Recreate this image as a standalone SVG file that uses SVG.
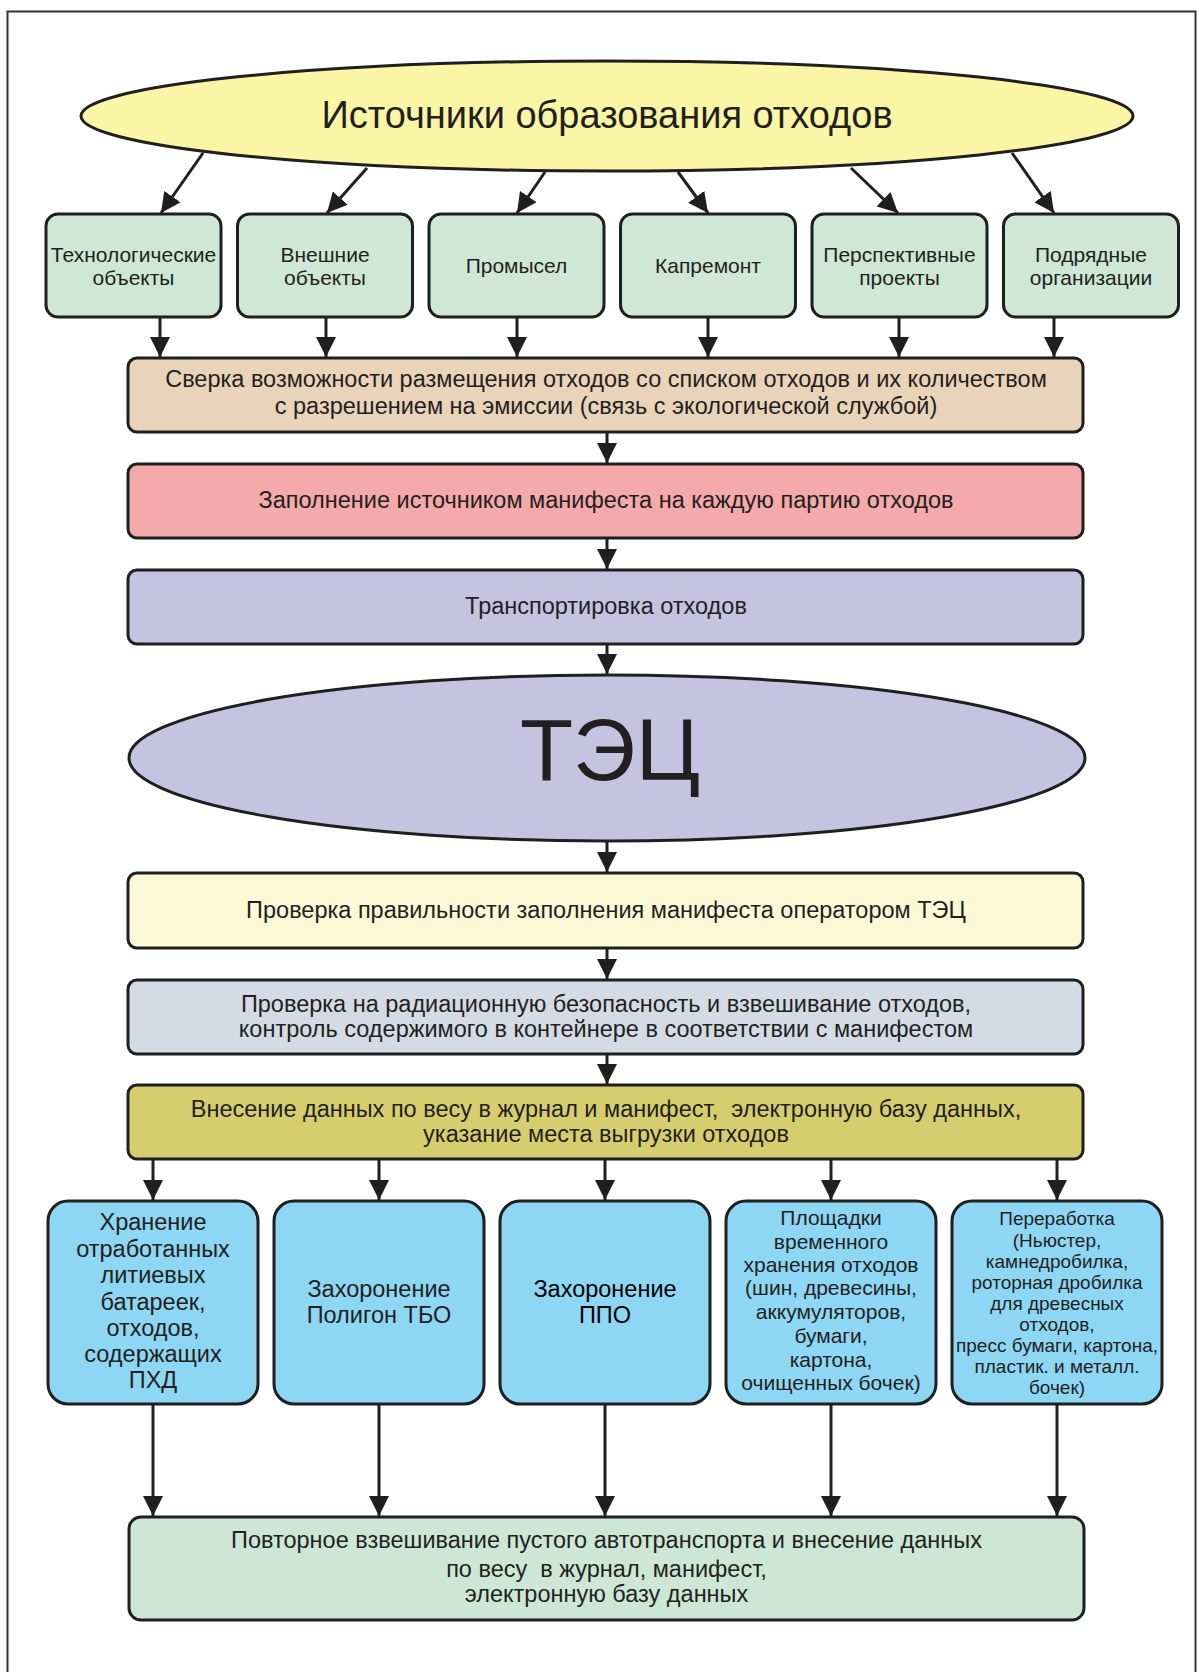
<svg xmlns="http://www.w3.org/2000/svg" width="1197" height="1672" viewBox="0 0 1197 1672">
<style>
text{font-family:"Liberation Sans",Arial,sans-serif;fill:#231f20;text-anchor:middle}
.b{stroke:#1f1f1f;stroke-width:3}
.c{stroke:#1f1f1f;stroke-width:3;fill:none;marker-end:url(#ah)}
.t21{font-size:21px}.t23{font-size:23.5px}.t19{font-size:19px}
</style>
<defs>
<marker id="ah" viewBox="0 0 20 20" refX="20" refY="10" markerWidth="20" markerHeight="20" markerUnits="userSpaceOnUse" orient="auto">
<path d="M0,0 L20,10 L0,20 z" fill="#1f1f1f"/>
</marker>
</defs>
<rect x="0" y="0" width="1197" height="1672" fill="#fff"/>
<rect x="7.5" y="11.5" width="1188" height="1670" fill="none" stroke="#333" stroke-width="2"/>

<g id="connectors">
<line class="c" x1="203" y1="153" x2="161" y2="213"/>
<line class="c" x1="367" y1="168" x2="327" y2="213"/>
<line class="c" x1="545" y1="172" x2="517" y2="213"/>
<line class="c" x1="678" y1="172" x2="708" y2="213"/>
<line class="c" x1="851" y1="168" x2="898" y2="213"/>
<line class="c" x1="1012" y1="153" x2="1054" y2="213"/>
<line class="c" x1="160" y1="317" x2="160" y2="357"/>
<line class="c" x1="326" y1="317" x2="326" y2="357"/>
<line class="c" x1="517" y1="317" x2="517" y2="357"/>
<line class="c" x1="708" y1="317" x2="708" y2="357"/>
<line class="c" x1="899" y1="317" x2="899" y2="357"/>
<line class="c" x1="1054" y1="317" x2="1054" y2="357"/>
<line class="c" x1="607" y1="432" x2="607" y2="463"/>
<line class="c" x1="607" y1="538" x2="607" y2="569"/>
<line class="c" x1="607" y1="644" x2="607" y2="674"/>
<line class="c" x1="607" y1="842" x2="607" y2="872"/>
<line class="c" x1="607" y1="948" x2="607" y2="979"/>
<line class="c" x1="607" y1="1054" x2="607" y2="1084"/>
<line class="c" x1="153" y1="1159" x2="153" y2="1200"/>
<line class="c" x1="379" y1="1159" x2="379" y2="1200"/>
<line class="c" x1="605" y1="1159" x2="605" y2="1200"/>
<line class="c" x1="831" y1="1159" x2="831" y2="1200"/>
<line class="c" x1="1057" y1="1159" x2="1057" y2="1200"/>
<line class="c" x1="153" y1="1404" x2="153" y2="1516"/>
<line class="c" x1="379" y1="1404" x2="379" y2="1516"/>
<line class="c" x1="605" y1="1404" x2="605" y2="1516"/>
<line class="c" x1="831" y1="1404" x2="831" y2="1516"/>
<line class="c" x1="1057" y1="1404" x2="1057" y2="1516"/>
</g>

<g id="sources">
<ellipse class="b" cx="607" cy="116" rx="526" ry="55" fill="#fbf6a6"/>
<text x="607" y="128" style="font-size:38px">Источники образования отходов</text>
</g>

<g id="src1"><rect class="b" x="46" y="214" width="175" height="103" rx="12" fill="#cfe7d5"/>
<text class="t21" x="133.5" y="262">Технологические</text><text class="t21" x="133.5" y="285">объекты</text></g>
<g id="src2"><rect class="b" x="237.5" y="214" width="175" height="103" rx="12" fill="#cfe7d5"/>
<text class="t21" x="325" y="262">Внешние</text><text class="t21" x="325" y="285">объекты</text></g>
<g id="src3"><rect class="b" x="429" y="214" width="175" height="103" rx="12" fill="#cfe7d5"/>
<text class="t21" x="516.5" y="273">Промысел</text></g>
<g id="src4"><rect class="b" x="620.5" y="214" width="175" height="103" rx="12" fill="#cfe7d5"/>
<text class="t21" x="708" y="273">Капремонт</text></g>
<g id="src5"><rect class="b" x="812" y="214" width="175" height="103" rx="12" fill="#cfe7d5"/>
<text class="t21" x="899.5" y="262">Перспективные</text><text class="t21" x="899.5" y="285">проекты</text></g>
<g id="src6"><rect class="b" x="1003.5" y="214" width="175" height="103" rx="12" fill="#cfe7d5"/>
<text class="t21" x="1091" y="262">Подрядные</text><text class="t21" x="1091" y="285">организации</text></g>

<g id="sverka"><rect class="b" x="128" y="358" width="955" height="74" rx="9" fill="#e9d3b9"/>
<text class="t23" x="606" y="387">Сверка возможности размещения отходов со списком отходов и их количеством</text>
<text class="t23" x="606" y="414">с разрешением на эмиссии (связь с экологической службой)</text></g>

<g id="manifest"><rect class="b" x="128" y="464" width="955" height="74" rx="9" fill="#f4a9aa"/>
<text class="t23" x="606" y="508">Заполнение источником манифеста на каждую партию отходов</text></g>

<g id="transport"><rect class="b" x="128" y="570" width="955" height="74" rx="9" fill="#c5c3e0"/>
<text class="t23" x="606" y="614">Транспортировка отходов</text></g>

<g id="tec"><ellipse class="b" cx="607" cy="758" rx="478" ry="83" fill="#c5c3e0"/>
<text x="610" y="780" style="font-size:87px">ТЭЦ</text></g>

<g id="check"><rect class="b" x="128" y="873" width="955" height="75" rx="9" fill="#fdf9d6"/>
<text class="t23" x="606" y="918">Проверка правильности заполнения манифеста оператором ТЭЦ</text></g>

<g id="radiation"><rect class="b" x="128" y="980" width="955" height="74" rx="9" fill="#d5dbe4"/>
<text class="t23" x="606" y="1012">Проверка на радиационную безопасность и взвешивание отходов,</text>
<text class="t23" x="606" y="1037">контроль содержимого в контейнере в соответствии с манифестом</text></g>

<g id="record"><rect class="b" x="128" y="1085" width="955" height="74" rx="9" fill="#d6ce6e"/>
<text class="t23" x="606" y="1117" xml:space="preserve">Внесение данных по весу в журнал и манифест,  электронную базу данных,</text>
<text class="t23" x="606" y="1142">указание места выгрузки отходов</text></g>

<g id="d1"><rect class="b" x="48" y="1201" width="210" height="203" rx="20" fill="#8dd6f4"/>
<text class="t23" x="153" y="1230">Хранение</text>
<text class="t23" x="153" y="1256.5">отработанных</text>
<text class="t23" x="153" y="1283">литиевых</text>
<text class="t23" x="153" y="1309.5">батареек,</text>
<text class="t23" x="153" y="1336">отходов,</text>
<text class="t23" x="153" y="1362">содержащих</text>
<text class="t23" x="153" y="1388">ПХД</text></g>
<g id="d2"><rect class="b" x="274" y="1201" width="210" height="203" rx="20" fill="#8dd6f4"/>
<text class="t23" x="379" y="1297">Захоронение</text>
<text class="t23" x="379" y="1323">Полигон ТБО</text></g>
<g id="d3"><rect class="b" x="500" y="1201" width="210" height="203" rx="20" fill="#8dd6f4"/>
<text class="t23" x="605" y="1297" style="fill:#000">Захоронение</text>
<text class="t23" x="605" y="1323" style="fill:#000">ППО</text></g>
<g id="d4"><rect class="b" x="726" y="1201" width="210" height="203" rx="20" fill="#8dd6f4"/>
<text class="t21" x="831" y="1225">Площадки</text>
<text class="t21" x="831" y="1248.5">временного</text>
<text class="t21" x="831" y="1272">хранения отходов</text>
<text class="t21" x="831" y="1295">(шин, древесины,</text>
<text class="t21" x="831" y="1318.5">аккумуляторов,</text>
<text class="t21" x="831" y="1342.5">бумаги,</text>
<text class="t21" x="831" y="1366.5">картона,</text>
<text class="t21" x="831" y="1390">очищенных бочек)</text></g>
<g id="d5"><rect class="b" x="952" y="1201" width="210" height="203" rx="20" fill="#8dd6f4"/>
<text class="t19" x="1057" y="1225">Переработка</text>
<text class="t19" x="1057" y="1246.5">(Ньюстер,</text>
<text class="t19" x="1057" y="1267.5">камнедробилка,</text>
<text class="t19" x="1057" y="1288.5">роторная дробилка</text>
<text class="t19" x="1057" y="1310">для древесных</text>
<text class="t19" x="1057" y="1330.5">отходов,</text>
<text class="t19" x="1057" y="1352">пресс бумаги, картона,</text>
<text class="t19" x="1057" y="1373">пластик. и металл.</text>
<text class="t19" x="1057" y="1393.5">бочек)</text></g>

<g id="final"><rect class="b" x="129" y="1517" width="955" height="103" rx="12" fill="#cde7d6"/>
<text class="t23" x="606.5" y="1548">Повторное взвешивание пустого автотранспорта и внесение данных</text>
<text class="t23" x="606.5" y="1577" xml:space="preserve">по весу  в журнал, манифест,</text>
<text class="t23" x="606.5" y="1602">электронную базу данных</text></g>
</svg>
